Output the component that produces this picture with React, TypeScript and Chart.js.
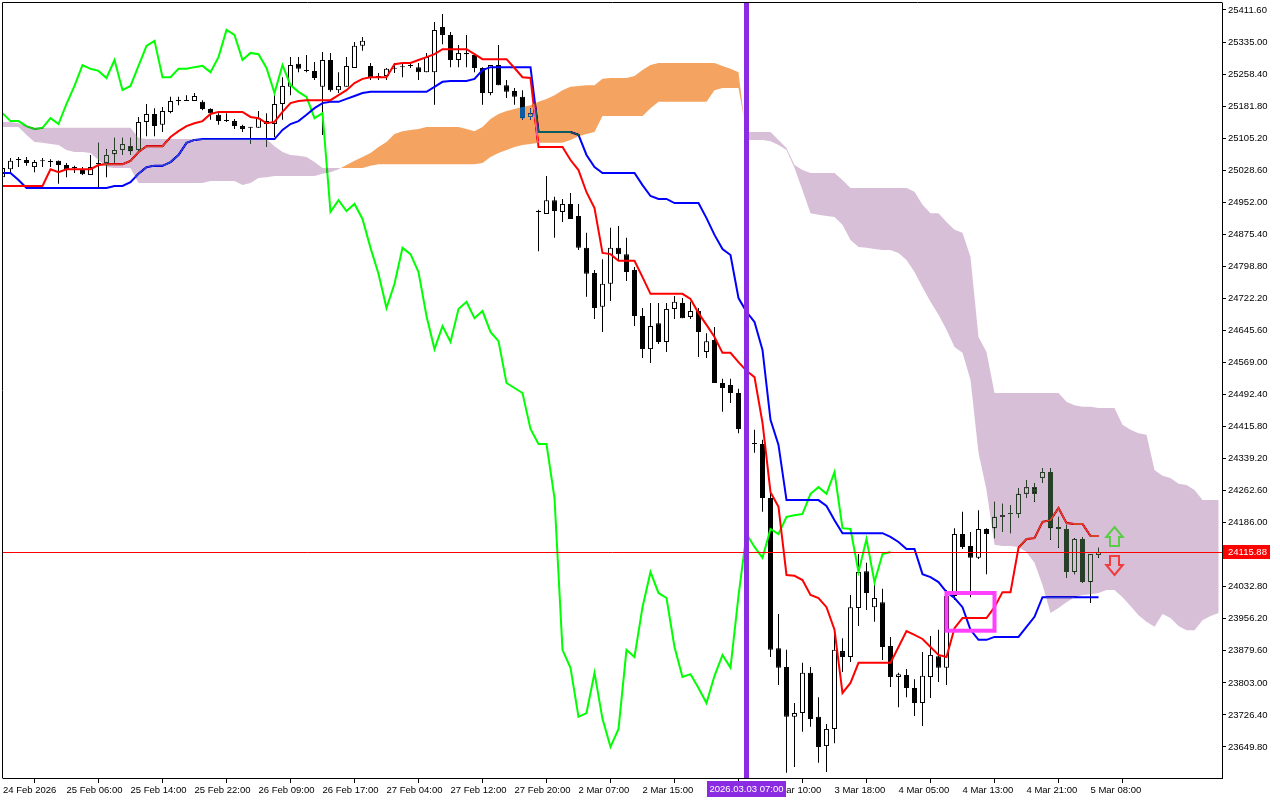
import React, { useEffect, useRef } from 'react';
import { Chart, registerables } from 'chart.js';

Chart.register(...registerables);

// ---- Candles (hourly bars, index 0..137) ----
const opens = [
  25012, 25031, 25053, 25053, 25036, 25051, 25048, 25051, 25041, 25034,
  25029, 25017, 25043, 25046, 25067, 25077, 25086, 25077, 25144, 25163,
  25137, 25168, 25194, 25196, 25194, 25192, 25175, 25161, 25146, 25146,
  25134, 25130, 25130, 25146, 25139, 25187, 25228, 25283, 25268, 25266,
  25228, 25292, 25220, 25228, 25273, 25326, 25278, 25254, 25254, 25273,
  25275, 25278, 25275, 25263, 25263, 25371, 25352, 25292, 25309, 25304,
  25273, 25213, 25280, 25232, 25218, 25204, 25156, 24929, 24924, 24957,
  24929, 24948, 24919, 24843, 24783, 24702, 24757, 24843, 24828, 24790,
  24680, 24601, 24663, 24618, 24697, 24711, 24678, 24692, 24594, 24623,
  24520, 24515, 24496, 24408, 24374, 24374, 24245, 23886, 23841, 23722,
  23731, 23827, 23722, 23652, 23693, 23879, 23865, 23982, 24070, 23984,
  23996, 23891, 23817, 23822, 23791, 23755, 23817, 23867, 23839, 24011,
  24159, 24130, 24102, 24171, 24173, 24200, 24207, 24207, 24255, 24271,
  24293, 24307, 24176, 24171, 24068, 24147, 24044, 24109,
];
const highs = [
  25039, 25058, 25060, 25060, 25053, 25058, 25055, 25052, 25046, 25039,
  25036, 25065, 25094, 25079, 25106, 25106, 25106, 25156, 25187, 25177,
  25180, 25204, 25204, 25208, 25213, 25196, 25177, 25165, 25165, 25151,
  25137, 25132, 25170, 25165, 25208, 25251, 25299, 25299, 25304, 25287,
  25311, 25309, 25263, 25299, 25335, 25347, 25285, 25261, 25273, 25285,
  25285, 25287, 25285, 25309, 25383, 25402, 25359, 25328, 25352, 25304,
  25275, 25280, 25328, 25244, 25225, 25220, 25177, 24934, 25015, 24965,
  24960, 24974, 24948, 24879, 24790, 24816, 24891, 24895, 24867, 24797,
  24699, 24711, 24711, 24711, 24728, 24723, 24714, 24699, 24639, 24654,
  24530, 24530, 24506, 24420, 24408, 24384, 24257, 23968, 23882, 23755,
  23851, 23841, 23769, 23705, 23934, 23910, 24013, 24111, 24090, 24039,
  24028, 23913, 23827, 23836, 23812, 23877, 23915, 23930, 24025, 24173,
  24212, 24164, 24216, 24173, 24236, 24231, 24228, 24269, 24288, 24281,
  24317, 24317, 24200, 24181, 24149, 24152, 24111, 24126,
];
const lows = [
  25008, 25022, 25036, 25039, 25024, 25036, 25036, 24996, 25012, 25022,
  25017, 25017, 24986, 25012, 25046, 25065, 25065, 25072, 25110, 25110,
  25120, 25165, 25184, 25194, 25194, 25172, 25149, 25137, 25144, 25127,
  25120, 25091, 25130, 25084, 25108, 25149, 25208, 25263, 25263, 25244,
  25113, 25216, 25213, 25228, 25273, 25314, 25244, 25244, 25244, 25261,
  25251, 25273, 25244, 25263, 25185, 25330, 25275, 25275, 25275, 25263,
  25185, 25208, 25232, 25201, 25185, 25149, 25149, 24835, 24924, 24867,
  24905, 24912, 24838, 24726, 24673, 24642, 24716, 24814, 24764, 24656,
  24580, 24568, 24613, 24594, 24673, 24675, 24673, 24582, 24580, 24520,
  24451, 24472, 24400, 24365, 24353, 24212, 23865, 23798, 23588, 23602,
  23686, 23698, 23612, 23590, 23659, 23829, 23853, 23939, 23977, 23949,
  23858, 23793, 23745, 23769, 23724, 23700, 23767, 23805, 23798, 24001,
  24123, 24008, 24099, 24063, 24149, 24164, 24161, 24197, 24245, 24236,
  24281, 24145, 24126, 24054, 24063, 24042, 23994, 24102,
];
const closes = [
  25034, 25051, 25053, 25046, 25048, 25050, 25048, 25041, 25031, 25034,
  25019, 25036, 25046, 25065, 25077, 25091, 25074, 25144, 25163, 25134,
  25170, 25194, 25194, 25194, 25206, 25175, 25165, 25146, 25146, 25134,
  25127, 25130, 25153, 25139, 25187, 25230, 25280, 25271, 25266, 25249,
  25292, 25220, 25230, 25278, 25326, 25338, 25251, 25251, 25271, 25271,
  25275, 25278, 25263, 25299, 25364, 25352, 25292, 25309, 25306, 25273,
  25213, 25280, 25232, 25216, 25204, 25153, 25165, 24929, 24957, 24931,
  24948, 24912, 24843, 24781, 24699, 24757, 24843, 24828, 24785, 24680,
  24601, 24656, 24618, 24697, 24714, 24675, 24692, 24642, 24620, 24520,
  24508, 24496, 24410, 24374, 24374, 24245, 23882, 23839, 23722, 23731,
  23827, 23717, 23650, 23693, 23882, 23865, 23984, 24068, 24018, 24006,
  23889, 23817, 23824, 23791, 23755, 23820, 23870, 23839, 24011, 24159,
  24128, 24102, 24171, 24159, 24200, 24204, 24207, 24255, 24271, 24255,
  24307, 24173, 24171, 24068, 24147, 24044, 24111, 24115.88,
];

// ---- Ichimoku lines ----
const tenkan = [
  24991, 24991, 24991, 24991, 24991, 24991, 25031, 25024, 25031, 25031,
  25031, 25031, 25041, 25043, 25043, 25043, 25051, 25072, 25086, 25086,
  25086, 25108, 25122, 25134, 25141, 25146, 25163, 25168, 25168, 25168,
  25168, 25156, 25153, 25141, 25144, 25168, 25189, 25194, 25196, 25196,
  25196, 25196, 25208, 25220, 25237, 25247, 25251, 25251, 25251, 25282,
  25285, 25285, 25292, 25299, 25306, 25318, 25318, 25318, 25318, 25306,
  25294, 25294, 25294, 25294, 25273, 25251, 25249, 25084, 25084, 25084,
  25084, 25053, 25029, 24976, 24938, 24831, 24828, 24812, 24812, 24812,
  24773, 24733, 24733, 24733, 24733, 24733, 24721, 24687, 24659, 24630,
  24592, 24592, 24570, 24549, 24534, 24425, 24259, 24224, 24061, 24059,
  24049, 24013, 24006, 23984, 23930, 23779, 23803, 23851, 23851, 23851,
  23851, 23851, 23889, 23927, 23918, 23908, 23889, 23870, 23865, 23934,
  23958, 23958, 23958, 23958, 23984, 24020, 24020, 24126, 24147, 24149,
  24188, 24192, 24221, 24185, 24183, 24183, 24154, 24154,
];
const kijun = [
  25022, 25022, 25005, 24986, 24986, 24986, 24986, 24986, 24986, 24986,
  24986, 24986, 24986, 24986, 24991, 24991, 25000, 25020, 25036, 25039,
  25039, 25048, 25065, 25094, 25101, 25103, 25103, 25103, 25103, 25103,
  25103, 25103, 25103, 25103, 25103, 25125, 25139, 25146, 25161, 25177,
  25189, 25192, 25192, 25199, 25206, 25213, 25216, 25216, 25216, 25216,
  25216, 25216, 25216, 25216, 25228, 25240, 25242, 25242, 25242, 25247,
  25268, 25275, 25275, 25275, 25275, 25275, 25275, 25120, 25120, 25120,
  25120, 25120, 25113, 25065, 25036, 25022, 25022, 25022, 25022, 25022,
  24993, 24967, 24960, 24960, 24950, 24950, 24950, 24950, 24914, 24874,
  24840, 24826, 24723, 24690, 24666, 24599, 24432, 24372, 24240, 24240,
  24240, 24240, 24240, 24226, 24192, 24161, 24161, 24161, 24161, 24161,
  24161, 24152, 24140, 24123, 24123, 24063, 24056, 24044, 24020, 24006,
  23984, 23930, 23906, 23906, 23913, 23913, 23913, 23913, 23937, 23961,
  24008, 24008, 24008, 24008, 24008, 24008, 24008, 24008,
];
// Chikou span = closes plotted 26 bars back
const chikouShift = 26;
const chikou = closes.slice(chikouShift);

// Senkou spans (shifted 26 bars forward, index 0..152)
const spanA = [
  25132, 25132, 25132, 25113, 25096, 25094, 25091, 25089, 25077, 25072,
  25072, 25070, 25053, 25036, 25034, 25034, 25034, 24998, 24998, 24998,
  24998, 24998, 24998, 24998, 24998, 24998, 25003, 25003, 25003, 25003,
  24993, 24998, 25010, 25012, 25015, 25015, 25015, 25015, 25015, 25015,
  25020, 25024, 25031, 25041, 25051, 25060, 25070, 25084, 25096, 25115,
  25122, 25125, 25127, 25132, 25132, 25132, 25132, 25132, 25127, 25122,
  25132, 25151, 25163, 25170, 25175, 25180, 25184, 25192, 25199, 25208,
  25220, 25228, 25230, 25232, 25232, 25247, 25249, 25249, 25249, 25254,
  25268, 25280, 25285, 25285, 25285, 25285, 25285, 25285, 25285, 25285,
  25278, 25271, 25263, 25101, 25101, 25101, 25098, 25089, 25077, 25034,
  24981, 24926, 24922, 24919, 24917, 24898, 24862, 24845, 24843, 24840,
  24838, 24838, 24831, 24814, 24785, 24749, 24714, 24683, 24647, 24606,
  24592, 24527, 24353, 24264, 24133, 24130, 24130, 24128, 24116, 24090,
  24037, 23970, 23982, 23996, 24008, 24013, 24015, 24018, 24025, 24025,
  24008, 23987, 23965, 23949, 23937, 23968, 23958, 23939, 23929, 23929,
  23953, 23963, 23970,
];
const spanB = [
  25144, 25144, 25141, 25134, 25130, 25130, 25130, 25130, 25130, 25130,
  25130, 25130, 25130, 25130, 25130, 25130, 25130, 25106, 25103, 25103,
  25103, 25103, 25103, 25103, 25103, 25103, 25103, 25103, 25103, 25103,
  25103, 25103, 25103, 25103, 25086, 25072, 25065, 25063, 25060, 25048,
  25034, 25034, 25034, 25034, 25034, 25034, 25039, 25043, 25043, 25043,
  25043, 25043, 25043, 25043, 25043, 25043, 25043, 25043, 25043, 25043,
  25046, 25060, 25070, 25077, 25084, 25089, 25091, 25094, 25094, 25094,
  25094, 25101, 25110, 25115, 25120, 25158, 25158, 25158, 25158, 25158,
  25158, 25177, 25192, 25192, 25192, 25192, 25192, 25192, 25192, 25220,
  25225, 25225, 25225, 25120, 25120, 25120, 25120, 25101, 25082, 25041,
  25029, 25022, 25022, 25022, 25022, 25005, 24986, 24986, 24986, 24986,
  24986, 24986, 24986, 24986, 24977, 24946, 24926, 24926, 24905, 24886,
  24879, 24821, 24630, 24594, 24496, 24496, 24496, 24496, 24496, 24496,
  24496, 24496, 24496, 24475, 24467, 24463, 24463, 24460, 24460, 24460,
  24420, 24408, 24400, 24396, 24312, 24298, 24293, 24279, 24276, 24264,
  24240, 24240, 24240,
];

// ---- Axes ----
const xTickIndex = [0, 8, 16, 24, 32, 40, 48, 56, 64, 72, 80, 88, 96, 104, 112, 120, 128, 136];
const xTickLabels = [
  '24 Feb 2026', '25 Feb 06:00', '25 Feb 14:00', '25 Feb 22:00', '26 Feb 09:00',
  '26 Feb 17:00', '27 Feb 04:00', '27 Feb 12:00', '27 Feb 20:00', '2 Mar 07:00',
  '2 Mar 15:00', '3 Mar 02:00', '3 Mar 10:00', '3 Mar 18:00', '4 Mar 05:00',
  '4 Mar 13:00', '4 Mar 21:00', '5 Mar 08:00',
];
const yTickValues = [
  23649.8, 23726.4, 23803.0, 23879.6, 23956.2, 24032.8, 24109.4, 24186.0,
  24262.6, 24339.2, 24415.8, 24492.4, 24569.0, 24645.6, 24722.2, 24798.8,
  24875.4, 24952.0, 25028.6, 25105.2, 25181.8, 25258.4, 25335.0, 25411.6,
];
const xRange = [0.0625, 152.4375];
const yRange = [23575.69, 25428.33];

// ---- Annotations ----
const lastPrice = 24115.88;
const markerIndex = 93;
const markerLabel = '2026.03.03 07:00';
const boxIndexRange = [118, 124];
const boxPriceRange = [24017.9, 23927.8];
const arrowIndex = 139;
const upArrowPrice = 24175.7;
const downArrowPrice = 24061.0;

const FONT = '"Liberation Sans", Arial, sans-serif';
const FONT_SIZE = 9.5;

function addPoly(p: Path2D, pts: number[][]) {
  p.moveTo(pts[0][0], pts[0][1]);
  for (let k = 1; k < pts.length; k++) p.lineTo(pts[k][0], pts[k][1]);
  p.closePath();
}

function drawArrow(ctx: CanvasRenderingContext2D, cx: number, tipY: number, dir: number, color: string) {
  // dir = 1: arrow pointing up (shape extends downward from tip); -1: pointing down
  const shape = [[0, 0], [8.3, 10], [4.5, 10], [4.5, 19], [-4.5, 19], [-4.5, 10], [-8.3, 10]];
  ctx.save();
  ctx.beginPath();
  shape.forEach(([dx, dy], k) => {
    const px = cx + dx;
    const py = tipY + dir * dy;
    if (k === 0) ctx.moveTo(px, py); else ctx.lineTo(px, py);
  });
  ctx.closePath();
  ctx.lineJoin = 'miter';
  ctx.lineWidth = 2;
  ctx.strokeStyle = color;
  ctx.stroke();
  ctx.restore();
}

const overlayPlugin = {
  id: 'mt5Overlay',
  beforeDraw(chart: any) {
    const ctx = chart.ctx;
    ctx.save();
    ctx.fillStyle = '#ffffff';
    ctx.fillRect(0, 0, chart.width, chart.height);
    ctx.restore();
  },
  afterDatasetsDraw(chart: any) {
    const { ctx, chartArea: ca, scales } = chart;
    const xs = scales.x;
    const ys = scales.y;
    ctx.save();
    ctx.beginPath();
    ctx.rect(ca.left, ca.top, ca.right - ca.left, ca.bottom - ca.top);
    ctx.clip();

    // Kumo cloud, drawn MT5-style (inverting what lies beneath)
    const orange = new Path2D();
    const purple = new Path2D();
    for (let i = 0; i < spanA.length - 1; i++) {
      const x0 = xs.getPixelForValue(i);
      const x1 = xs.getPixelForValue(i + 1);
      const a0 = ys.getPixelForValue(spanA[i]);
      const a1 = ys.getPixelForValue(spanA[i + 1]);
      const b0 = ys.getPixelForValue(spanB[i]);
      const b1 = ys.getPixelForValue(spanB[i + 1]);
      const d0 = spanA[i] - spanB[i];
      const d1 = spanA[i + 1] - spanB[i + 1];
      if ((d0 >= 0 && d1 >= 0) || (d0 <= 0 && d1 <= 0)) {
        if (d0 === 0 && d1 === 0) continue;
        addPoly(d0 + d1 > 0 ? orange : purple, [[x0, a0], [x1, a1], [x1, b1], [x0, b0]]);
      } else {
        const t = d0 / (d0 - d1);
        const xc = x0 + t * (x1 - x0);
        const yc = a0 + t * (a1 - a0);
        addPoly(d0 > 0 ? orange : purple, [[x0, a0], [xc, yc], [x0, b0]]);
        addPoly(d1 > 0 ? orange : purple, [[xc, yc], [x1, a1], [x1, b1]]);
      }
    }
    ctx.globalCompositeOperation = 'difference';
    ctx.fillStyle = 'rgb(11,91,159)'; // inverse of sandy brown
    ctx.fill(orange);
    ctx.fillStyle = 'rgb(39,64,39)'; // inverse of thistle
    ctx.fill(purple);
    ctx.globalCompositeOperation = 'source-over';

    // bid line
    const py = Math.round(ys.getPixelForValue(lastPrice)) + 0.5;
    ctx.strokeStyle = '#ff0000';
    ctx.lineWidth = 1;
    ctx.beginPath();
    ctx.moveTo(ca.left, py);
    ctx.lineTo(ca.right, py);
    ctx.stroke();

    // vertical marker line
    const mx = xs.getPixelForValue(markerIndex);
    ctx.strokeStyle = 'rgb(138,43,226)';
    ctx.lineWidth = 5;
    ctx.beginPath();
    ctx.moveTo(mx, ca.top);
    ctx.lineTo(mx, ca.bottom);
    ctx.stroke();

    // rectangle object
    const rx0 = xs.getPixelForValue(boxIndexRange[0]);
    const rx1 = xs.getPixelForValue(boxIndexRange[1]);
    const ry0 = ys.getPixelForValue(boxPriceRange[0]);
    const ry1 = ys.getPixelForValue(boxPriceRange[1]);
    ctx.strokeStyle = 'rgb(255,64,255)';
    ctx.lineWidth = 4;
    ctx.strokeRect(rx0, ry0, rx1 - rx0, ry1 - ry0);

    // arrows
    const ax = Math.round(xs.getPixelForValue(arrowIndex)) - 0.5;
    drawArrow(ctx, ax, Math.round(ys.getPixelForValue(upArrowPrice)), 1, 'rgb(90,205,70)');
    drawArrow(ctx, ax, Math.round(ys.getPixelForValue(downArrowPrice)), -1, 'rgb(240,60,60)');
    ctx.restore();
  },
  afterDraw(chart: any) {
    const { ctx, chartArea: ca, scales } = chart;
    const xs = scales.x;
    const ys = scales.y;
    ctx.save();
    // frame left/top
    ctx.strokeStyle = '#000000';
    ctx.lineWidth = 1;
    ctx.beginPath();
    ctx.moveTo(2.5, ca.bottom + 0.5);
    ctx.lineTo(2.5, 2.5);
    ctx.lineTo(ca.right + 0.5, 2.5);
    ctx.stroke();

    ctx.font = `${FONT_SIZE}px ${FONT}`;
    ctx.textBaseline = 'middle';
    // price tag
    const py = Math.round(ys.getPixelForValue(lastPrice));
    ctx.fillStyle = '#ff0000';
    ctx.fillRect(ca.right + 1, py - 7, 47, 14);
    ctx.fillStyle = '#ffffff';
    ctx.textAlign = 'left';
    ctx.fillText(lastPrice.toFixed(2), ca.right + 6, py + 0.5);

    // time tag
    const mx = xs.getPixelForValue(markerIndex);
    ctx.fillStyle = 'rgb(138,43,226)';
    ctx.fillRect(Math.round(mx - 40), 781, 79, 16);
    ctx.fillStyle = '#ffffff';
    ctx.textAlign = 'center';
    ctx.fillText(markerLabel, mx, 789.5);
    ctx.restore();
  },
};

export default function App() {
  const ref = useRef<HTMLCanvasElement>(null);
  useEffect(() => {
    const canvas = ref.current;
    if (!canvas) return;
    const tickFont = { family: FONT, size: FONT_SIZE };
    const chart = new Chart(canvas, {
      type: 'line',
      data: {
        datasets: [
          {
            type: 'line', label: 'Tenkan-sen',
            data: tenkan.map((v, i) => ({ x: i, y: v })),
            borderColor: '#ff0000', borderWidth: 2, pointRadius: 0, tension: 0, order: 0,
          },
          {
            type: 'line', label: 'Kijun-sen',
            data: kijun.map((v, i) => ({ x: i, y: v })),
            borderColor: '#0000ff', borderWidth: 2, pointRadius: 0, tension: 0, order: 0,
          },
          {
            type: 'line', label: 'Chikou Span',
            data: chikou.map((v, i) => ({ x: i, y: v })),
            borderColor: '#00ff00', borderWidth: 2, pointRadius: 0, tension: 0, order: 0,
          },
          {
            type: 'bar', label: 'Body',
            data: opens.map((o, i) => ({ x: i, y: [o, closes[i]] })),
            backgroundColor: (c: any) => (closes[c.dataIndex] >= opens[c.dataIndex] ? '#ffffff' : '#000000'),
            borderColor: '#000000', borderWidth: 1, borderSkipped: false,
            barThickness: 5, grouped: false, minBarLength: 1, inflateAmount: 0, clip: 0, order: 1,
          },
          {
            type: 'bar', label: 'Wick',
            data: lows.map((l, i) => ({ x: i, y: [l, highs[i]] })),
            backgroundColor: '#000000', borderWidth: 0,
            barThickness: 1, grouped: false, inflateAmount: 0, clip: 0, order: 2,
          },
        ] as any,
      },
      options: {
        responsive: false,
        animation: false,
        devicePixelRatio: 1,
        events: [],
        layout: { padding: { left: 3, top: 3, right: 0, bottom: 0 } },
        plugins: { legend: { display: false }, tooltip: { enabled: false } },
        scales: {
          x: {
            type: 'linear', position: 'bottom', min: xRange[0], max: xRange[1], offset: false,
            grid: { display: true, drawOnChartArea: false, drawTicks: true, tickLength: 5, color: '#000000' },
            border: { display: true, color: '#000000' },
            ticks: {
              autoSkip: false, maxRotation: 0, minRotation: 0, align: 'start', padding: 2,
              color: '#000000', font: tickFont,
              callback: (_v: any, idx: number) => xTickLabels[idx],
            },
            afterBuildTicks: (s: any) => {
              s.ticks = xTickIndex.map((v) => ({ value: Math.max(v, s.min) }));
            },
            afterFit: (s: any) => {
              s.height = 22;
              s.paddingLeft = 0; s.paddingRight = 0;
            },
          },
          y: {
            type: 'linear', position: 'right', min: yRange[0], max: yRange[1],
            grid: { display: true, drawOnChartArea: false, drawTicks: true, tickLength: 4, color: '#000000' },
            border: { display: true, color: '#000000' },
            ticks: {
              autoSkip: false, padding: 2, color: '#000000', font: tickFont,
              callback: (v: any) => Number(v).toFixed(2),
            },
            afterBuildTicks: (s: any) => {
              s.ticks = yTickValues.map((v) => ({ value: v }));
            },
            afterFit: (s: any) => {
              s.width = 58;
              s.paddingTop = 0; s.paddingBottom = 0;
            },
          },
        },
      } as any,
      plugins: [overlayPlugin as any],
    });
    return () => chart.destroy();
  }, []);
  return (
    <div style={{ position: 'fixed', left: 0, top: 0, width: 1280, height: 800, background: '#ffffff' }}>
      <canvas ref={ref} width={1280} height={800} style={{ display: 'block', width: 1280, height: 800 }} />
    </div>
  );
}
